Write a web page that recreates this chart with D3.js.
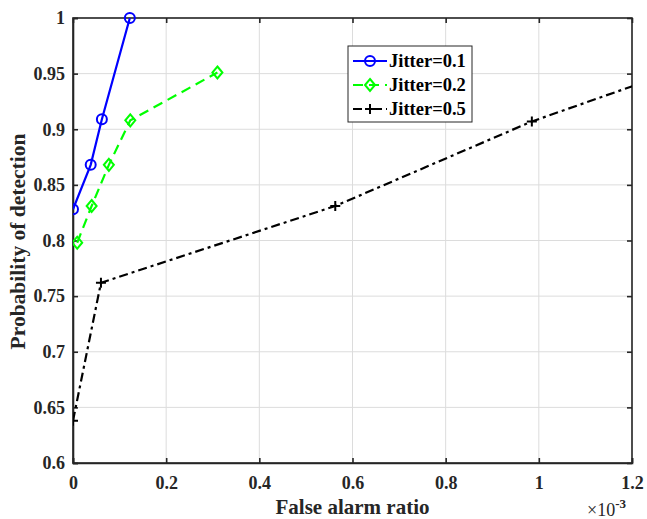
<!DOCTYPE html>
<html><head><meta charset="utf-8">
<script src="https://cdn.jsdelivr.net/npm/d3@7"></script>
<style>body{margin:0;background:#fff}svg{display:block}text{font-family:"Liberation Serif","Times New Roman",serif;font-weight:bold;fill:#262626}</style>
</head><body><svg id="c" width="647" height="519"></svg>
<script>
// x values in units of 1e-3
const seriesNames = ["Jitter=0.1", "Jitter=0.2", "Jitter=0.5"];
const jitter01X = [0, 0.038, 0.062, 0.122];
const jitter01Y = [0.828, 0.868, 0.909, 1.0];
const jitter02X = [0.009, 0.040, 0.077, 0.123, 0.310];
const jitter02Y = [0.798, 0.831, 0.868, 0.908, 0.951];
const jitter05X = [0, 0.060, 0.563, 0.985, 1.40];
const jitter05Y = [0.638, 0.762, 0.831, 0.907, 0.968];
const xTicks = [0, 0.2, 0.4, 0.6, 0.8, 1, 1.2];
const yTicks = [0.6, 0.65, 0.7, 0.75, 0.8, 0.85, 0.9, 0.95, 1];
const seriesColors = ["#0000ff", "#00ff00", "#000000"];

const svg = d3.select("#c");
const L = 73, R = 632, T = 18, B = 463;
const x = d3.scaleLinear().domain([0, 1.2]).range([L, R]);
const y = d3.scaleLinear().domain([0.6, 1]).range([B, T]);
const axisCol = "#262626";

// grid
svg.append("g").selectAll("line").data(xTicks).join("line")
  .attr("x1", d => x(d)).attr("x2", d => x(d)).attr("y1", T).attr("y2", B)
  .attr("stroke", "#dcdcdc").attr("stroke-width", 1);
svg.append("g").selectAll("line").data(yTicks).join("line")
  .attr("y1", d => y(d)).attr("y2", d => y(d)).attr("x1", L).attr("x2", R)
  .attr("stroke", "#dcdcdc").attr("stroke-width", 1);

// axes
const fmt = d => d3.format("")(+d.toFixed(2));
const ax = svg.append("g").attr("transform", `translate(0,${B})`)
  .call(d3.axisBottom(x).tickValues(xTicks).tickSize(-5).tickPadding(13).tickFormat(fmt));
const ay = svg.append("g").attr("transform", `translate(${L},0)`)
  .call(d3.axisLeft(y).tickValues(yTicks).tickSize(-5).tickPadding(8).tickFormat(fmt));
const at = svg.append("g").attr("transform", `translate(0,${T})`)
  .call(d3.axisTop(x).tickValues(xTicks).tickSize(-5).tickFormat(""));
const ar = svg.append("g").attr("transform", `translate(${R},0)`)
  .call(d3.axisRight(y).tickValues(yTicks).tickSize(-5).tickFormat(""));
[ax, ay, at, ar].forEach(g => {
  g.attr("font-family", null).attr("font-size", null);
  g.select(".domain").attr("stroke", axisCol).attr("stroke-width", 1.6);
  g.selectAll(".tick line").attr("stroke", axisCol).attr("stroke-width", 1.6);
  g.selectAll(".tick text").attr("fill", axisCol).style("font-size", "18px")
    .style("font-family", "'Liberation Serif'").style("font-weight", "bold");
});
at.select(".domain").remove(); ar.select(".domain").remove();
svg.append("rect").attr("x", L).attr("y", T).attr("width", R - L).attr("height", B - T)
  .attr("fill", "none").attr("stroke", axisCol).attr("stroke-width", 1.6);

// clip
svg.append("clipPath").attr("id", "clip").append("rect")
  .attr("x", L).attr("y", T - 8).attr("width", R - L).attr("height", B - T + 16);

const series = [
  {xs: jitter01X, ys: jitter01Y, dash: null, marker: "circle"},
  {xs: jitter02X, ys: jitter02Y, dash: "10,6", marker: "diamond"},
  {xs: jitter05X, ys: jitter05Y, dash: "9,4,3,4", marker: "plus"}
];
const line = d3.line().x(d => x(d[0])).y(d => y(d[1]));
const plot = svg.append("g").attr("clip-path", "url(#clip)");

function drawMarker(g, type, cx, cy, col) {
  if (type === "circle") {
    g.append("circle").attr("cx", cx).attr("cy", cy).attr("r", 5)
      .attr("fill", "none").attr("stroke", col).attr("stroke-width", 2);
  } else if (type === "diamond") {
    g.append("path").attr("d", `M${cx},${cy-6}L${cx+5},${cy}L${cx},${cy+6}L${cx-5},${cy}Z`)
      .attr("fill", "none").attr("stroke", col).attr("stroke-width", 2);
  } else {
    g.append("path").attr("d", `M${cx-5},${cy}H${cx+5}M${cx},${cy-5}V${cy+5}`)
      .attr("stroke", col).attr("stroke-width", 2);
  }
}

series.forEach((s, i) => {
  const pts = s.xs.map((v, k) => [v, s.ys[k]]);
  plot.append("path").datum(pts).attr("d", line).attr("fill", "none")
    .attr("stroke", seriesColors[i]).attr("stroke-width", 2.2)
    .attr("stroke-dasharray", s.dash);
  pts.forEach(p => drawMarker(plot, s.marker, x(p[0]), y(p[1]), seriesColors[i]));
});

// legend
const lg = svg.append("g");
lg.append("rect").attr("x", 348).attr("y", 46).attr("width", 124).attr("height", 76)
  .attr("fill", "#fff").attr("stroke", axisCol).attr("stroke-width", 1);
series.forEach((s, i) => {
  const cy = 61 + i * 24;
  lg.append("line").attr("x1", 353).attr("x2", 387).attr("y1", cy).attr("y2", cy)
    .attr("stroke", seriesColors[i]).attr("stroke-width", 2.2).attr("stroke-dasharray", s.dash);
  drawMarker(lg, s.marker, 370, cy, seriesColors[i]);
  lg.append("text").attr("x", 389).attr("y", cy + 6).style("font-size", "18.5px")
    .style("fill", "#000").text(seriesNames[i]);
});

// labels
svg.append("text").attr("x", (L + R) / 2).attr("y", 514).attr("text-anchor", "middle")
  .style("font-size", "21px").text("False alarm ratio");
svg.append("text").attr("transform", `translate(25,${(T + B) / 2 + 1}) rotate(-90)`)
  .attr("text-anchor", "middle").style("font-size", "21.5px").text("Probability of detection");
const ex = svg.append("text").attr("x", 587).attr("y", 516).style("font-size", "18px").style("font-weight", "normal");
ex.append("tspan").text("×10");
ex.append("tspan").attr("dy", -8).style("font-size", "13px").style("font-weight", "bold").text("-3");
</script></body></html>
